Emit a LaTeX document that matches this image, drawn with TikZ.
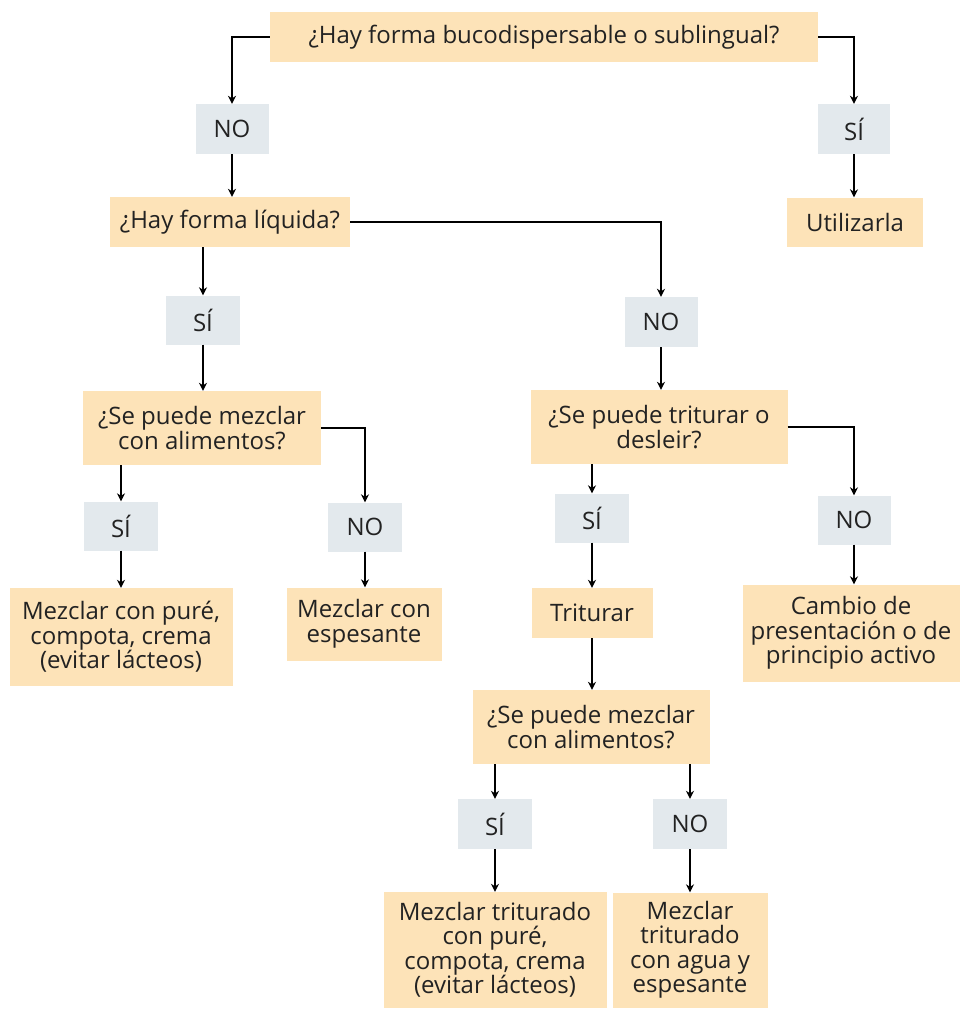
\documentclass[tikz,border=0pt]{standalone}
\usepackage{fontspec}
\setmainfont{Open Sans}
\usetikzlibrary{arrows.meta}
\definecolor{peach}{HTML}{FDE3B8}
\definecolor{greyb}{HTML}{E3E9ED}
\definecolor{txt}{HTML}{222222}
\tikzset{
  base/.style={align=center, inner sep=0pt, text=txt, font=\fontsize{24}{24.5}\selectfont},
  qbox/.style={base, fill=peach},
  abox/.style={base, fill=greyb},
  arr/.style={draw=black, line width=1.8pt, -{Stealth[length=8pt,width=8pt]}},
  ln/.style={draw=black, line width=1.8pt}
}
\begin{document}
\begin{tikzpicture}[x=1pt,y=-1pt]
\useasboundingbox (0,0) rectangle (960,1010);
% nodes
\node[qbox, minimum width=548, minimum height=50] (top) at (544,37) {¿Hay forma bucodispersable o sublingual?};
\node[abox, minimum width=73, minimum height=50] (no1) at (232,129) {NO};
\node[abox, minimum width=72, minimum height=50] (si1) at (854,129) {SÍ};
\node[qbox, minimum width=136, minimum height=49] (util) at (855,222) {Utilizarla};
\node[qbox, minimum width=240, minimum height=50] (liq) at (230,222) {¿Hay forma líquida?};
\node[abox, minimum width=74, minimum height=49] (si2) at (203,320) {SÍ};
\node[abox, minimum width=73, minimum height=50] (no2) at (661,322) {NO};
\node[qbox, minimum width=238, minimum height=74] (mez1) at (202,428) {¿Se puede mezclar\\con alimentos?};
\node[qbox, minimum width=257, minimum height=74] (trit) at (659,427) {¿Se puede triturar o\\desleir?};
\node[abox, minimum width=74, minimum height=49] (si3) at (121,526) {SÍ};
\node[abox, minimum width=74, minimum height=49] (no3) at (365,527) {NO};
\node[abox, minimum width=74, minimum height=49] (si4) at (592,518) {SÍ};
\node[abox, minimum width=73, minimum height=49] (no4) at (854,520) {NO};
\node[qbox, minimum width=223, minimum height=98] (pure1) at (121,637) {Mezclar con puré,\\compota, crema\\(evitar lácteos)};
\node[qbox, minimum width=155, minimum height=73] (esp) at (364,624) {Mezclar con\\espesante};
\node[qbox, minimum width=121, minimum height=50] (tri) at (592,613) {Triturar};
\node[qbox, minimum width=217, minimum height=97] (camb) at (851,633) {Cambio de\\presentación o de\\principio activo};
\node[qbox, minimum width=237, minimum height=74] (mez2) at (591,727) {¿Se puede mezclar\\con alimentos?};
\node[abox, minimum width=74, minimum height=50] (si5) at (495,824) {SÍ};
\node[abox, minimum width=74, minimum height=50] (no5) at (690,824) {NO};
\node[qbox, minimum width=223, minimum height=116] (pure2) at (495,950) {Mezclar triturado\\con puré,\\compota, crema\\(evitar lácteos)};
\node[qbox, minimum width=155, minimum height=115] (agua) at (690,950) {Mezclar\\triturado\\con agua y\\espesante};
% connectors
\draw[arr] (top.west) -| (no1.north);
\draw[arr] (no1.south) -- (no1.south |- liq.north);
\draw[arr] (top.east) -| (si1.north);
\draw[arr] (si1.south) -- (si1.south |- util.north);
\draw[arr] (liq.east) -| (no2.north);
\draw[arr] (no2.south) -- (no2.south |- trit.north);
\draw[arr] (si2.north |- liq.south) -- (si2.north);
\draw[arr] (si2.south) -- (si2.south |- mez1.north);
\draw[arr] (si3.north |- mez1.south) -- (si3.north);
\draw[arr] (si3.south) -- (si3.south |- pure1.north);
\draw[arr] (mez1.east) -| (no3.north);
\draw[arr] (no3.south) -- (no3.south |- esp.north);
\draw[arr] (si4.north |- trit.south) -- (si4.north);
\draw[arr] (si4.south) -- (si4.south |- tri.north);
\draw[arr] (trit.east) -| (no4.north);
\draw[arr] (no4.south) -- (no4.south |- camb.north);
\draw[arr] (tri.south) -- (tri.south |- mez2.north);
\draw[arr] (si5.north |- mez2.south) -- (si5.north);
\draw[arr] (no5.north |- mez2.south) -- (no5.north);
\draw[arr] (si5.south) -- (si5.south |- pure2.north);
\draw[arr] (no5.south) -- (no5.south |- agua.north);
\end{tikzpicture}
\end{document}
